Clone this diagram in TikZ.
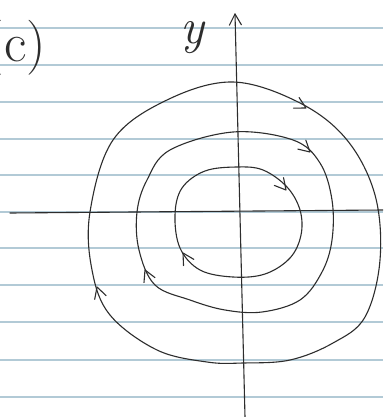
\documentclass[tikz,border=0pt]{standalone}
\usetikzlibrary{calc}
\definecolor{rule}{RGB}{178,202,214}
\definecolor{pen}{RGB}{45,45,45}
\tikzset{
  ruled/.style={draw=rule, line width=1.3pt},
  penline/.style={draw=pen, line width=1.1pt, line cap=round, line join=round},
  orbit/.style={penline, smooth cycle, tension=0.6},
  chev/.pic={\draw[penline] (-11,6) -- (0,0) -- (-11,-6);}
}
\begin{document}
\begin{tikzpicture}[x=1pt,y=-1pt]
\useasboundingbox (0,0) rectangle (383,417);
\fill[white] (0,0) rectangle (383,417);
\begin{scope}
\clip (0,0) rectangle (383,417);
% ruled paper
\foreach \yy in {28,65,102,139,175,212,248,285,322,360,397}
  \draw[ruled] (0,\yy) -- (383,\yy);
% label (c)
\node[anchor=east, text=pen, font=\fontsize{55}{60}\selectfont, inner sep=0pt] (lab) at (46,48) {(c)};
% axes
\coordinate (xl) at (10,213);
\coordinate (xr) at (383,210);
\coordinate (yt) at (235,14);
\coordinate (yb) at (245,417);
\draw[penline] (xl) -- (xr);
\draw[penline] (yt) -- (yb);
\pic[rotate=92] at (yt) {chev};
\node[text=pen, font=\fontsize{50}{55}\selectfont\itshape, inner sep=0pt] (ylab) at (192,38) {y};
% outer orbit
\draw[orbit] plot coordinates {(233,82) (300,103) (347,140) (375,195) (380,260) (365,317) (333,343) (290,360) (243,363) (207,362) (157,350) (110,315) (92,270) (90,212) (113,140) (167,100)};
% middle orbit
\draw[orbit] plot coordinates {(233,132) (293,140) (320,163) (332,200) (332,240) (322,272) (300,300) (262,312) (225,310) (190,300) (155,285) (139,250) (137,212) (147,180) (170,150)};
% inner orbit
\draw[orbit] plot coordinates {(237,167) (263,170) (287,187) (300,210) (301,235) (290,258) (265,274) (233,277) (200,270) (180,248) (175,215) (182,188) (205,171)};
% arrows (clockwise flow)
\pic[rotate=-28] at (306,108) {chev};
\pic[rotate=108] at (97,287) {chev};
\pic[rotate=-42] at (310,152) {chev};
\pic[rotate=114] at (145,270) {chev};
\pic[rotate=-50] at (286,190) {chev};
\pic[rotate=121] at (183,253) {chev};
\end{scope}
\end{tikzpicture}
\end{document}
